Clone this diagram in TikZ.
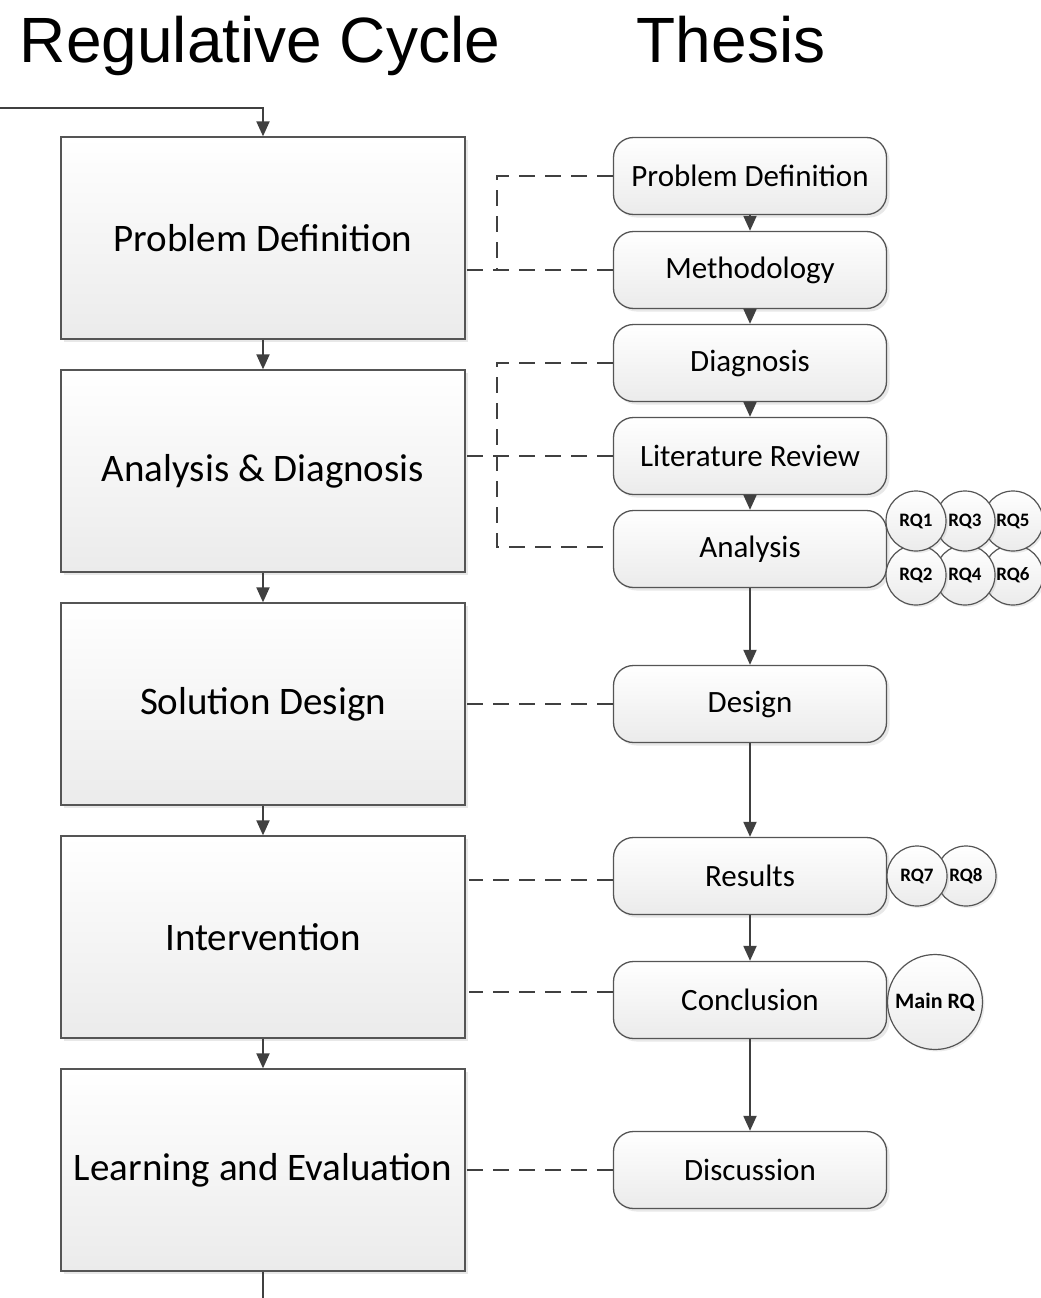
\documentclass[tikz,border=0pt]{standalone}
\usepackage{fontspec}
\setmainfont{Carlito}
\newfontfamily\arialfont{Liberation Sans}
\usetikzlibrary{arrows.meta,shadows,calc}
\definecolor{linec}{HTML}{404040}
\definecolor{borderc}{HTML}{555555}
\definecolor{botc}{HTML}{EBEBEB}
\tikzset{
  stagebox/.style={draw=borderc, line width=1.3pt, top color=white, bottom color=botc,
    minimum width=404pt, minimum height=202pt, inner sep=0pt,
    drop shadow={opacity=0.18, shadow xshift=3pt, shadow yshift=-3pt},
    font=\fontsize{39}{44}\selectfont},
  thesisbox/.style={draw=borderc, line width=1.3pt, top color=white, bottom color=botc,
    rounded corners=20pt, minimum width=273pt, minimum height=77pt, inner sep=0pt,
    drop shadow={opacity=0.18, shadow xshift=3pt, shadow yshift=-3pt},
    font=\fontsize{31}{36}\selectfont},
  rqcircle/.style={circle, draw=borderc, line width=1.2pt, top color=white, bottom color=botc,
    minimum size=60pt, inner sep=0pt,
    drop shadow={opacity=0.15, shadow xshift=2pt, shadow yshift=-2pt},
    font=\bfseries\fontsize{19}{21}\selectfont},
  arr/.style={draw=linec, line width=2pt, -{Triangle[width=13pt,length=15pt]}},
  plainline/.style={draw=linec, line width=2pt},
  dashline/.style={draw=linec, line width=1.7pt, dash pattern=on 16pt off 10pt},
  titletext/.style={font=\arialfont\fontsize{64}{70}\selectfont, anchor=base}
}
\begin{document}
\begin{tikzpicture}[x=1pt,y=-1pt]
\useasboundingbox (0,0) rectangle (1041,1298);
% titles
\node[titletext] (title1) at (260,63) {Regulative Cycle};
\node[titletext] (title2) at (731,63) {Thesis};
% left stage boxes
\node[stagebox] (b1) at (263,238) {Problem Definition};
\node[stagebox] (b2) at (263,471) {Analysis \& Diagnosis};
\node[stagebox] (b3) at (263,704) {Solution Design};
\node[stagebox] (b4) at (263,937) {Intervention};
\node[stagebox] (b5) at (263,1170) {Learning and Evaluation};
% thesis boxes
\node[thesisbox] (t1) at (750,176) {Problem Definition};
\node[thesisbox] (t2) at (750,270) {Methodology};
\node[thesisbox] (t3) at (750,363) {Diagnosis};
\node[thesisbox] (t4) at (750,456) {Literature Review};
\node[thesisbox] (t5) at (750,549) {Analysis};
\node[thesisbox] (t6) at (750,704) {Design};
\node[thesisbox] (t7) at (750,876) {Results};
\node[thesisbox] (t8) at (750,1000) {Conclusion};
\node[thesisbox] (t9) at (750,1170) {Discussion};
% research question circles
\node[rqcircle] (rq6) at (1013,575) {RQ6};
\node[rqcircle] (rq5) at (1013,521) {RQ5};
\node[rqcircle] (rq4) at (965,575) {RQ4};
\node[rqcircle] (rq3) at (965,521) {RQ3};
\node[rqcircle] (rq2) at (916,575) {RQ2};
\node[rqcircle] (rq1) at (916,521) {RQ1};
\node[rqcircle] (rq8) at (966,876) {RQ8};
\node[rqcircle] (rq7) at (917,876) {RQ7};
\node[rqcircle, minimum size=95pt, font=\bfseries\fontsize{22}{24}\selectfont] (mrq) at (935,1002) {Main RQ};
% left cycle connectors
\coordinate (start) at (0,108);
\coordinate (endpt) at (263,1300);
\draw[arr] (start) -| (b1.north);
\draw[arr] (b1.south) -- (b2.north);
\draw[arr] (b2.south) -- (b3.north);
\draw[arr] (b3.south) -- (b4.north);
\draw[arr] (b4.south) -- (b5.north);
\draw[plainline] (b5.south) -- (endpt);
% thesis connectors
\draw[arr] (t1.south) -- (t2.north);
\draw[arr] (t2.south) -- (t3.north);
\draw[arr] (t3.south) -- (t4.north);
\draw[arr] (t4.south) -- (t5.north);
\draw[arr] (t5.south) -- (t6.north);
\draw[arr] (t6.south) -- (t7.north);
\draw[arr] (t7.south) -- (t8.north);
\draw[arr] (t8.south) -- (t9.north);
% dashed mappings
\coordinate (c1) at (497,176);
\coordinate (c2) at (497,270);
\coordinate (c3) at (497,363);
\coordinate (c4) at (497,547);
\draw[dashline] (t1.west) -- (c1) -- (c2);
\draw[dashline] (t2.west) -- (b1.east |- t2.west);
\draw[dashline] (t3.west) -- (c3) -- (c4) -- (t5.west |- c4);
\draw[dashline] (t4.west) -- (b2.east |- t4.west);
\draw[dashline] (t6.west) -- (b3.east |- t6.west);
\draw[dashline] ($(t7.west)+(0,4)$) -- ($(b4.east |- t7.west)+(3,4)$);
\draw[dashline] ($(t8.west)+(0,-8)$) -- ($(b4.east |- t8.west)+(3,-8)$);
\draw[dashline] (t9.west) -- (b5.east |- t9.west);
\end{tikzpicture}
\end{document}
